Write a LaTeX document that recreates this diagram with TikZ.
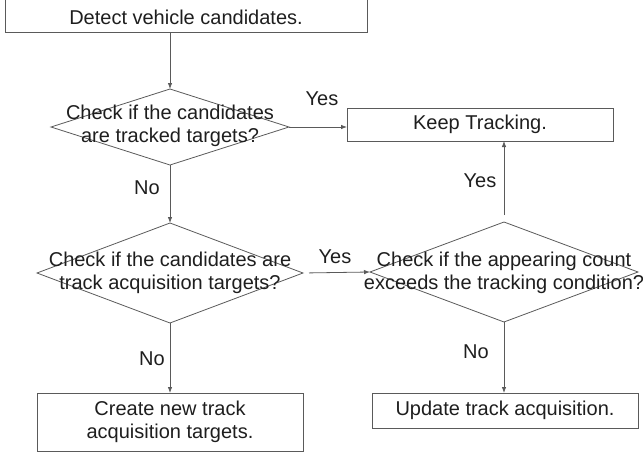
\documentclass[tikz,border=0pt]{standalone}
\usepackage{fontspec}
\setmainfont{Liberation Sans}
\usetikzlibrary{shapes.geometric,arrows.meta}
\definecolor{linegray}{HTML}{5A5A5A}
\definecolor{inkgray}{HTML}{1E1E1E}
\begin{document}
\begin{tikzpicture}[x=1pt,y=-1pt,
  every node/.style={text=inkgray,font=\fontsize{20}{23.5}\selectfont,outer sep=0pt},
  box/.style={draw=linegray,line width=0.8pt,rectangle,inner sep=0pt,align=center},
  dia/.style={draw=linegray,line width=0.8pt,diamond,inner sep=0pt,aspect=1},
  txt/.style={align=center,inner sep=0pt},
  lbl/.style={inner sep=0pt},
  flow/.style={draw=linegray,line width=0.8pt,-{Latex[length=6pt,width=4.5pt]}}]
\useasboundingbox (0,0) rectangle (643,455);

% process boxes
\node[box,minimum width=362pt,minimum height=46pt,anchor=south] (detect) at (186,32) {};
\node[txt] (detecttxt) at (186,17) {Detect vehicle candidates.};
\node[box,minimum width=266pt,minimum height=33pt] (keep) at (480,124.5) {Keep Tracking.};
\node[box,minimum width=266pt,minimum height=58pt] (create) at (170,422) {Create new track\\acquisition targets.};
\node[box,minimum width=266pt,minimum height=35pt] (update) at (505,410.5) {Update track acquisition.};

% decisions (text is allowed to spill over the diamond outline)
\node[dia,minimum width=238pt,minimum height=76pt] (d1) at (170,127) {};
\node[txt] (d1txt) at (170,126) {Check if the candidates\\are tracked targets?};
\node[dia,minimum width=266pt,minimum height=100pt] (d2) at (170,273) {};
\node[txt] (d2txt) at (170,273) {Check if the candidates are\\track acquisition targets?};
\node[dia,minimum width=268pt,minimum height=100pt] (d3) at (504,272) {};
\node[txt] (d3txt) at (504,273) {Check if the appearing count\\exceeds the tracking condition?};

% connectors
\draw[flow] (detect.south -| d1.north) -- (d1.north);
\draw[flow] (d1.east) -- (d1.east -| keep.west);
\draw[flow] (d1.south) -- (d2.north);
\draw[flow] (d2.south) -- (create.north);
\draw[flow,shorten <=6pt] (d2.east) -- (d3.west);
\draw[flow,shorten <=7pt] (d3.north) -- (keep.south -| d3.north);
\draw[flow] (d3.south) -- (update.north -| d3.south);

% branch labels
\node[lbl] (y1) at (322,99) {Yes};
\node[lbl] (n1) at (147,188) {No};
\node[lbl] (y2) at (335,257) {Yes};
\node[lbl] (n2) at (152,359) {No};
\node[lbl] (y3) at (480,181) {Yes};
\node[lbl] (n3) at (476,352) {No};
\end{tikzpicture}
\end{document}
